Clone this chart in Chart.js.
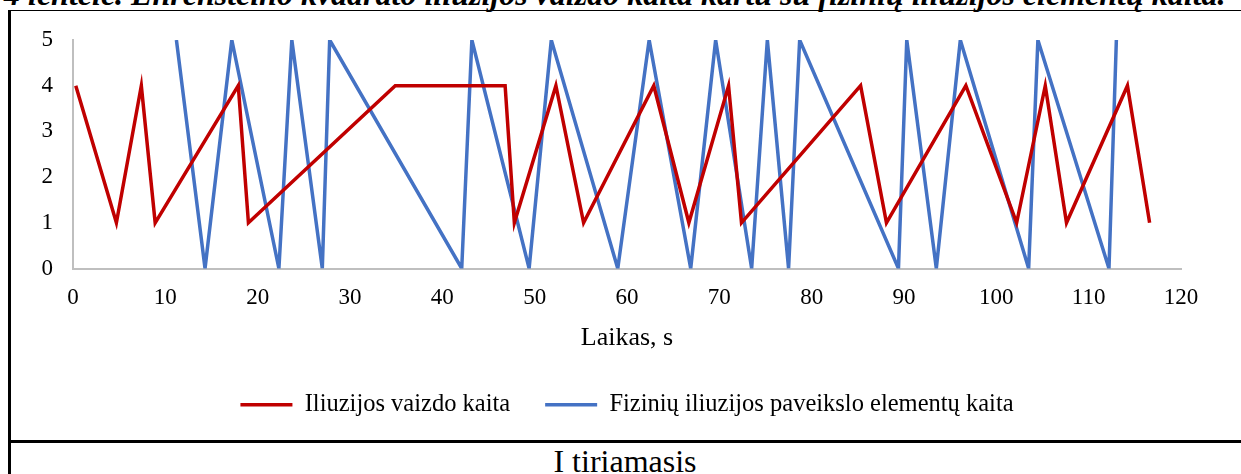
<!DOCTYPE html>
<html>
<head>
<meta charset="utf-8">
<script src="https://cdn.jsdelivr.net/npm/chart.js@4.4.1/dist/chart.umd.min.js"></script>
<style>
  html, body { margin: 0; padding: 0; background: #fff; }
  body { width: 1241px; height: 474px; position: relative; overflow: hidden; font-family: "Liberation Serif", serif; }
  #caption { position: absolute; left: 4px; top: -22px; font-size: 32px; line-height: 32px; font-style: italic; font-weight: bold; white-space: nowrap; color: #000; }
  #frameTop { position: absolute; left: 8px; top: 10px; width: 1233px; height: 0; border-top: 1.5px solid #000; }
  #frameLeft { position: absolute; left: 8px; top: 10px; width: 0; height: 464px; border-left: 3px solid #000; }
  #divider { position: absolute; left: 8px; top: 440px; width: 1233px; height: 0; border-top: 3px solid #000; }
  #study { position: absolute; left: 0; width: 1250px; top: 443px; text-align: center; font-size: 32px; line-height: 36px; color: #000; }
  #wrap { position: absolute; left: 0; top: 0; width: 1241px; height: 440px; }
</style>
</head>
<body>
<div id="caption">4 lentelė. Ehrensteino kvadrato iliuzijos vaizdo kaita kartu su fizinių iliuzijos elementų kaita.</div>
<div id="frameTop"></div>
<div id="frameLeft"></div>
<div id="divider"></div>
<div id="study">I tiriamasis</div>
<div id="wrap"><canvas id="chart"></canvas></div>
<script>
// Iliuzijos vaizdo kaita
const imageTime  = [0.3, 4.7, 7.4, 8.9, 17.9, 19.0, 34.9, 46.8, 47.8, 52.3, 55.3, 62.9, 66.7, 71.0, 72.4, 85.3, 88.1, 96.7, 102.2, 105.3, 107.6, 114.2, 116.6];
const imageValue = [4, 1, 4, 1, 4, 1, 4, 4, 1, 4, 1, 4, 1, 4, 1, 4, 1, 4, 1, 4, 1, 4, 1];

// Fizinių iliuzijos paveikslo elementų kaita
const elemTime  = [11.2, 14.3, 17.2, 22.3, 23.7, 27.0, 27.8, 42.1, 43.2, 49.4, 51.8, 59.0, 62.4, 66.9, 69.6, 73.5, 75.2, 77.5, 78.7, 89.4, 90.3, 93.5, 96.1, 103.5, 104.5, 112.2, 113.0];
const elemValue = [5, 0, 5, 0, 5, 0, 5, 0, 5, 0, 5, 0, 5, 0, 5, 0, 5, 0, 5, 0, 5, 0, 5, 0, 5, 0, 5];

const seriesNames = ['Iliuzijos vaizdo kaita', 'Fizinių iliuzijos paveikslo elementų kaita'];
const axisTitle = 'Laikas, s';
const xTicks = [0, 10, 20, 30, 40, 50, 60, 70, 80, 90, 100, 110, 120];
const yTicks = [0, 1, 2, 3, 4, 5];

const toPoints = (xs, ys) => xs.map((x, i) => ({ x, y: ys[i] }));
const serif = 'Liberation Serif';

new Chart(document.getElementById('chart'), {
  type: 'line',
  data: {
    datasets: [
      {
        label: seriesNames[0],
        data: toPoints(imageTime, imageValue),
        borderColor: '#c00000',
        backgroundColor: '#c00000',
        borderWidth: 3.5,
        pointRadius: 0,
        tension: 0,
        borderJoinStyle: 'miter'
      },
      {
        label: seriesNames[1],
        data: toPoints(elemTime, elemValue),
        borderColor: '#4472c4',
        backgroundColor: '#4472c4',
        borderWidth: 3.5,
        pointRadius: 0,
        tension: 0,
        borderJoinStyle: 'miter'
      }
    ]
  },
  options: {
    responsive: true,
    maintainAspectRatio: false,
    animation: false,
    layout: { padding: { left: 0, right: 60, top: 40, bottom: 13 } },
    plugins: {
      legend: {
        position: 'bottom',
        fullSize: false,
        labels: {
          usePointStyle: true,
          pointStyle: 'line',
          pointStyleWidth: 52,
          padding: 35,
          color: '#000',
          font: { family: serif, size: 24.5 }
        }
      },
      tooltip: { enabled: false }
    },
    scales: {
      x: {
        type: 'linear',
        min: xTicks[0],
        max: xTicks[xTicks.length - 1],
        afterBuildTicks: s => { s.ticks = xTicks.map(v => ({ value: v })); },
        afterFit: s => { s.height = 89; },
        grid: { display: false, drawTicks: false },
        border: { color: '#bfbfbf', width: 2 },
        ticks: { color: '#000', padding: 16, maxRotation: 0, font: { family: serif, size: 23 } },
        title: { display: true, text: axisTitle, color: '#000', padding: { top: 0, bottom: 4 }, font: { family: serif, size: 26 } }
      },
      y: {
        min: yTicks[0],
        max: yTicks[yTicks.length - 1],
        afterBuildTicks: s => { s.ticks = yTicks.map(v => ({ value: v })); },
        afterFit: s => { s.width = 73; },
        grid: { display: false, drawTicks: false },
        border: { color: '#bfbfbf', width: 2 },
        ticks: { color: '#000', padding: 20, font: { family: serif, size: 23 } }
      }
    }
  }
});
</script>
</body>
</html>
